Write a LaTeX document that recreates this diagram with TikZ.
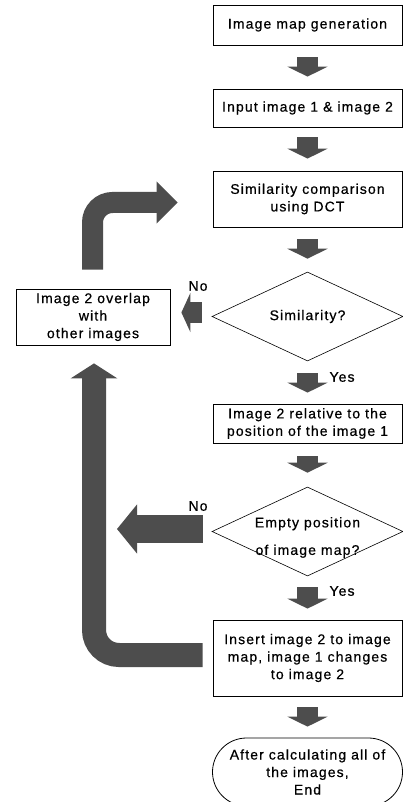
\documentclass[tikz,border=0pt]{standalone}
\usepackage{fontspec}
\setmainfont{Liberation Sans}[LetterSpace=8,FakeBold=0.6]
\usetikzlibrary{arrows.meta,shapes.geometric,shapes.misc}
\definecolor{blockgray}{RGB}{77,77,77}
\begin{document}
\begin{tikzpicture}[x=1pt,y=-1pt,
  every node/.style={font=\fontsize{14}{17.5}\selectfont, align=center, text=black},
  procbox/.style={draw=black, line width=0.8pt, rectangle, minimum width=189pt, inner sep=0pt},
  decision/.style={draw=black, line width=0.6pt, diamond, minimum width=191pt, minimum height=89pt, inner xsep=-20pt, inner ysep=-20pt},
  terminal/.style={draw=black, line width=0.8pt, rounded rectangle, minimum width=190pt, minimum height=68pt, inner sep=0pt},
  stepflow/.style={draw=blockgray, line width=21pt, -{Triangle[length=10pt,width=40pt,color=blockgray]}},
  sideflow/.style={draw=blockgray, line width=21pt, -{Triangle[length=9pt,width=39pt,color=blockgray]}},
  wideflow/.style={draw=blockgray, line width=28pt, -{Triangle[length=20pt,width=48pt,color=blockgray]}},
  loopflow/.style={draw=blockgray, line width=24pt, rounded corners=25pt, -{Triangle[length=15pt,width=46pt,color=blockgray]}},
  riseflow/.style={draw=blockgray, line width=21pt, rounded corners=20pt, -{Triangle[length=21pt,width=41pt,color=blockgray]}}]

% page area
\fill[white] (0,0) rectangle (403,802);
\useasboundingbox (0,0) rectangle (403,802);

% main column
\node[procbox, minimum height=40pt] (gen) at (307.5,25) {Image map generation};
\node[procbox, minimum height=38pt] (inp) at (307.5,108) {Input image 1 \& image 2};
\node[procbox, minimum height=56pt] (sim) at (307.5,199) {Similarity comparison\\using DCT};
\node[decision] (d1) at (307.5,316.5) {Similarity?};
\node[procbox, minimum height=39pt] (rel) at (307.5,423.5) {Image 2 relative to the\\position of the image 1};
\node[decision, label={[align=center, yshift=-6pt]center:Empty position\\[10pt]of image map?}] (d2) at (307.5,531.5) {};
\node[procbox, minimum height=76pt] (ins) at (307.5,658) {Insert image 2 to image\\map, image 1 changes\\to image 2};
\node[terminal] (fin) at (307.5,772) {After calculating all of\\the images,\\End};

% side box
\node[procbox, minimum width=154pt, minimum height=56pt] (ovl) at (93,317) {Image 2 overlap\\with\\other images};

% branch labels
\node (no1) at (198,286) {No};
\node (no2) at (198,506) {No};
\node (yes1) at (342,377) {Yes};
\node (yes2) at (342,591) {Yes};

% downward block arrows
\draw[stepflow] ([yshift=-12pt]gen.south) -- ([yshift=12pt]inp.north);
\draw[stepflow] ([yshift=-10pt]inp.south) -- ([yshift=12pt]sim.north);
\draw[stepflow] ([yshift=-12pt]sim.south) -- ([yshift=13pt]d1.north);
\draw[stepflow] ([yshift=-12pt]d1.south) -- ([yshift=11pt]rel.north);
\draw[stepflow] ([yshift=-13pt]rel.south) -- ([yshift=14pt]d2.north);
\draw[stepflow] ([yshift=-11pt]d2.south) -- ([yshift=11pt]ins.north);
\draw[stepflow] ([yshift=-11pt]ins.south) -- ([yshift=11pt]fin.north);

% "No" branches
\draw[sideflow] ([xshift=-10pt,yshift=4pt]d1.west) -- ([xshift=11pt,yshift=4.5pt]ovl.east);
\coordinate (backtip) at (117,529);
\draw[wideflow] ([xshift=-9pt,yshift=2.5pt]d2.west) -- (backtip);

% loop back after insertion
\draw[loopflow] ([xshift=-10pt,yshift=3pt]ins.west) -| ([xshift=1pt,yshift=-18pt]ovl.south);

% return to comparison
\draw[riseflow] ([xshift=-0.5pt,yshift=19pt]ovl.north) |- ([xshift=-35pt,yshift=-3.5pt]sim.west);
\end{tikzpicture}
\end{document}
